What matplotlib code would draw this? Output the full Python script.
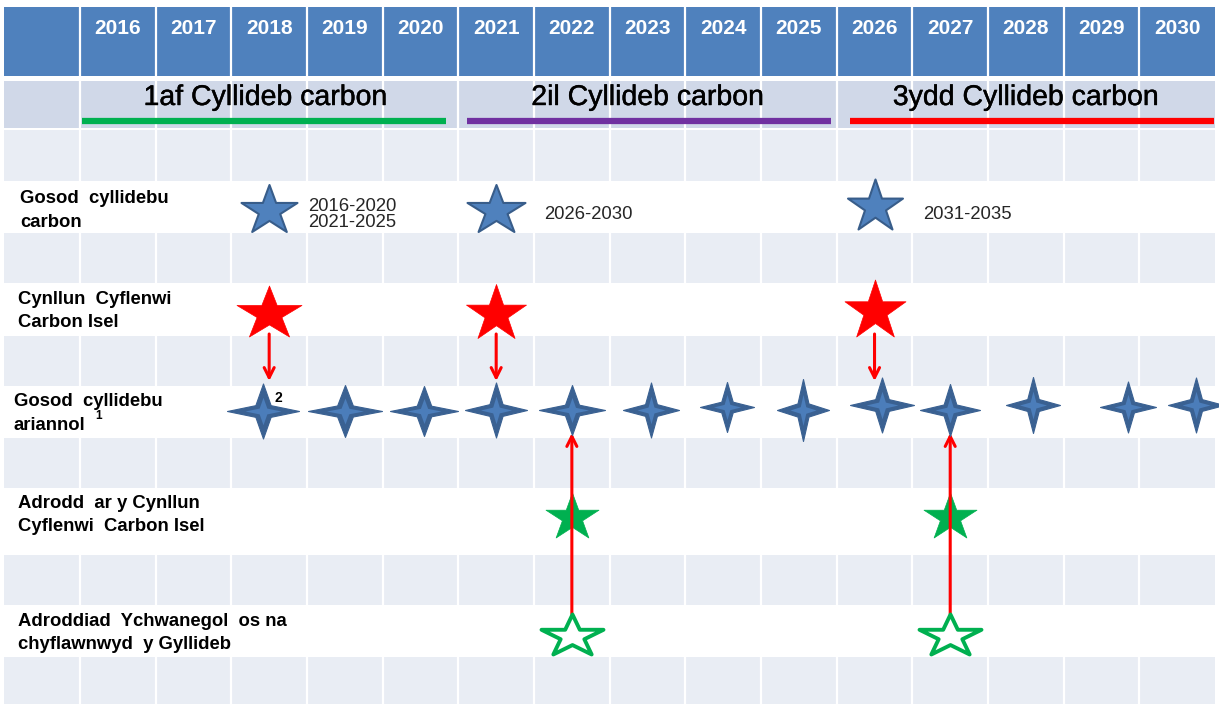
import numpy as np
import matplotlib
matplotlib.use("Agg")
import matplotlib.pyplot as plt
from matplotlib.path import Path
from matplotlib.patches import Rectangle
import matplotlib.patheffects as pe

plt.rcParams['font.family'] = ['Liberation Sans', 'DejaVu Sans']

# ---------------- data ----------------
years = list(range(2016, 2031))
periods = ["1af Cyllideb carbon", "2il Cyllideb carbon", "3ydd Cyllideb carbon"]
period_start = [2016, 2021, 2026]
period_end = [2020, 2025, 2030]
period_colors = ["#00B050", "#7030A0", "#FF0000"]

row_labels = ["Gosod  cyllidebu\ncarbon",
              "Cynllun  Cyflenwi\nCarbon Isel",
              "Gosod  cyllidebu\nariannol",
              "Adrodd  ar y Cynllun\nCyflenwi  Carbon Isel",
              "Adroddiad  Ychwanegol  os na\nchyflawnwyd  y Gyllideb"]

carbon_budget_years = [2018, 2021, 2026]
carbon_budget_notes = ["2016-2020\n2021-2025", "2026-2030", "2031-2035"]
delivery_plan_years = [2018, 2021, 2026]
financial_budget_years = [2017.92, 2019.0, 2020.05, 2021.0, 2022.0, 2023.05,
                          2024.05, 2025.05, 2026.1, 2027.0, 2028.1, 2029.35, 2030.25]
report_years = [2022, 2027]
extra_report_years = [2022, 2027]

# ---------------- layout ----------------
PX = 75.67          # pixels per year column
X0 = 2015.5         # year coordinate of pixel x=80

def px2yr(p):
    return X0 + (p - 80) / PX

fig = plt.figure(figsize=(12.19, 7.04), dpi=100)
ax = fig.add_axes([0, 0, 1, 1])
ax.set_xlim(px2yr(0), px2yr(1219))
ax.set_ylim(704, 0)
ax.axis('off')

left_edge, right_edge = 2014.5, 2030.5
HEADER = "#4F81BD"
SUB = "#D0D8E8"
LIGHT = "#E9EDF4"

bands = [(7, 76, HEADER), (81, 128, SUB), (130, 181, LIGHT), (233, 283, LIGHT),
         (336, 386, LIGHT), (438, 488, LIGHT), (555, 605, LIGHT), (657, 704, LIGHT)]
for top, bot, col in bands:
    ax.add_patch(Rectangle((left_edge, top), right_edge - left_edge, bot - top,
                           facecolor=col, edgecolor='none', zorder=0))

bounds = [y + 0.5 for y in range(2015, 2030)]
ax.vlines(bounds, 7, 704, color='white', lw=1.6, zorder=1)

# header years
for y in years:
    ax.text(y, 28, str(y), ha='center', va='center', color='white',
            fontsize=15, fontweight='bold', zorder=5)

# period titles and colour bars
bar_inset = [0.03, 0.12, 0.18]
bar_len = 364 / PX
semi_bold = [pe.withStroke(linewidth=0.3, foreground='black')]
for i, (name, s, e, c) in enumerate(zip(periods, period_start, period_end, period_colors)):
    ax.text((s + e) / 2 - (0.05 if i == 0 else 0), 98, name, ha='center', va='center',
            fontsize=20.5, color='black', zorder=5, path_effects=semi_bold)
    xs = s - 0.5 + bar_inset[i]
    ax.plot([xs, xs + bar_len], [121, 121], color=c, lw=4.5,
            solid_capstyle='butt', zorder=3)

# row labels (each line drawn separately)
label_y = [210.5, 311, 413.5, 515, 633]
label_x = [px2yr(20), px2yr(18), px2yr(14), px2yr(18), px2yr(18)]
line_gap = 23.5
for lab, lx, ly in zip(row_labels, label_x, label_y):
    lines = lab.split("\n")
    for j, ln in enumerate(lines):
        yy = ly + (j - (len(lines) - 1) / 2) * line_gap
        ax.text(lx, yy, ln, ha='left', va='center', fontsize=13.3,
                fontweight='bold', color='black', zorder=5)
ax.text(px2yr(99), 416, "1", ha='center', va='center', fontsize=8.5,
        fontweight='bold', zorder=5)
ax.text(px2yr(278), 398, "2", ha='center', va='center', fontsize=10,
        fontweight='bold', zorder=8)


# star paths
def star5(w, h):
    ang = np.deg2rad(90 + 36 * np.arange(10))
    r = np.where(np.arange(10) % 2 == 0, 1.0, 0.382)
    x = r * np.cos(ang)
    y = r * np.sin(ang)
    y = y - (1 - 0.809) / 2
    x = x / 1.902 * w
    y = y / 1.809 * h
    verts = np.column_stack([x, y])
    verts = np.vstack([verts, verts[0]])
    codes = [Path.MOVETO] + [Path.LINETO] * 9 + [Path.CLOSEPOLY]
    return Path(verts, codes)


def star4(w, h, k=0.3):
    a = k * 0.7071
    pts = [(0, h / 2), (a * w / 2, a * h / 2), (w / 2, 0), (a * w / 2, -a * h / 2),
           (0, -h / 2), (-a * w / 2, -a * h / 2), (-w / 2, 0), (-a * w / 2, a * h / 2)]
    verts = np.array(pts + [pts[0]])
    codes = [Path.MOVETO] + [Path.LINETO] * 7 + [Path.CLOSEPOLY]
    return Path(verts, codes)


def ms(w, h):
    return max(w, h) * 0.72


# carbon budget stars (blue)
blue_size = [(56, 47), (58, 47), (55, 50)]
blue_y = [207.5, 207.5, 204]
for x, (w, h), yy in zip(carbon_budget_years, blue_size, blue_y):
    ax.plot([x], [yy], marker=star5(w, h), ms=ms(w, h), mfc="#4F81BD",
            mec="#385D8A", mew=1.5, ls='none', zorder=4)
note_dx = [39, 48, 49]
for x, yy, note, dx in zip(carbon_budget_years, blue_y, carbon_budget_notes, note_dx):
    ax.text(x + dx / PX, 214.5, note, ha='left', va='center', fontsize=13.3,
            color='#262626', linespacing=0.95, zorder=5)

# delivery plan stars (red) + arrows
red_size = [(65, 51), (60, 54), (61, 57)]
red_y = [310.5, 311, 307.5]
for x, (w, h), yy in zip(delivery_plan_years, red_size, red_y):
    ax.plot([x], [yy], marker=star5(w, h), ms=ms(w, h), mfc="#FF0000",
            mec="#FF0000", mew=0.5, ls='none', zorder=4)
    ax.annotate("", xy=(x, 381), xytext=(x, 334),
                arrowprops=dict(arrowstyle='->', color='#FF0000', lw=2.2,
                                mutation_scale=18, shrinkA=0, shrinkB=0), zorder=6)

# financial budget 4-point stars
fw = [72, 74, 68, 62, 66, 56, 54, 52, 64, 60, 54, 56, 56]
fh = [55, 52, 50, 55, 50, 55, 50, 62, 55, 52, 56, 51, 55]
fy = [411, 411, 411, 410, 410, 410, 407, 410, 405, 410, 405, 407, 405]
for x, w, h, yy in zip(financial_budget_years, fw, fh, fy):
    ax.plot([x], [yy], marker=star4(w, h), ms=ms(w, h), mfc="#3A6192",
            mec="#3A6192", mew=0.8, ls='none', zorder=7)
    ax.plot([x], [yy], marker=star4(w * 0.5, h * 0.5), ms=ms(w, h) * 0.5,
            mfc="#4B7DBA", mec='none', ls='none', zorder=7.5)

# report stars (green) and additional report (hollow) + arrows up
for x in extra_report_years:
    ax.annotate("", xy=(x, 433), xytext=(x, 614),
                arrowprops=dict(arrowstyle='->', color='#FF0000', lw=2.2,
                                mutation_scale=18, shrinkA=0, shrinkB=0), zorder=6)
for x in report_years:
    ax.plot([x], [515], marker=star5(53, 45), ms=ms(53, 45), mfc="#00B050",
            mec="#00B050", mew=0.5, ls='none', zorder=5)
for x in extra_report_years:
    ax.plot([x], [634], marker=star5(62, 40), ms=ms(62, 40), mfc="white",
            mec="#00B050", mew=2.8, ls='none', zorder=7)

fig.savefig("out.png", dpi=100)
